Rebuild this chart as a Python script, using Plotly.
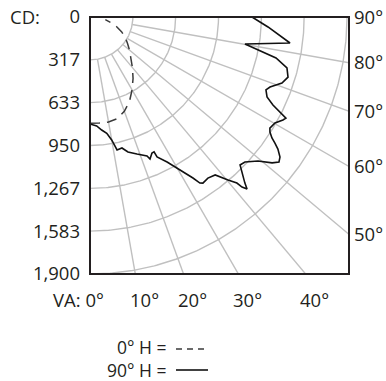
import numpy as np
import plotly.graph_objects as go

# ---- data (candela vs vertical angle) ----
cd_ticks = [0, 317, 633, 950, 1267, 1583, 1900]
cd_tick_text = ["0", "317", "633", "950", "1,267", "1,583", "1,900"]
va_ticks = [0, 10, 20, 30, 40]
side_ticks = [90, 80, 70, 60, 50]
grid_angles = [10, 20, 30, 40, 50, 60, 70, 80]

h0_angles = [0, 5, 10, 15, 20, 25, 30, 35, 40, 45, 50, 55, 60, 65, 70, 75, 80]
h0_cd = [785, 787, 788, 778, 742, 690, 622, 555, 488, 426, 381, 338, 300, 257, 210, 161, 115]

h90_angles = [0, 3.5, 5.9, 8.2, 10.0, 10.9, 11.5, 13.7, 15.7, 18.9, 22.3, 22.9, 24.5, 25.4,
              25.6, 28.0, 30.5, 32.6, 33.5, 34.2, 36.2, 38.4, 40.25, 41.5, 41.8, 42.4, 43.0,
              44.3, 45.4, 46.9, 49.4, 51.3, 52.5, 53.6, 54.9, 55.7, 56.4, 57.4, 58.3, 60.2,
              61.9, 62.7, 63.4, 64.3, 65.7, 67.5, 68.75, 71.0, 73.1, 75.5, 77.6, 78.7, 80.1,
              82.6, 84.3, 86.8, 90]
h90_cd = [791, 807, 840, 869, 923, 977, 1003, 997, 1037, 1071, 1111, 1140, 1105, 1104,
          1147, 1214, 1312, 1413, 1472, 1485, 1476, 1490, 1579, 1639, 1686, 1722, 1679,
          1610, 1558, 1569, 1636, 1725, 1761, 1745, 1698, 1655, 1615, 1579, 1563, 1576,
          1617, 1630, 1570, 1501, 1436, 1408, 1428, 1501, 1530, 1504, 1408, 1282, 1163,
          1491, 1419, 1318, 1198]

FONT = "Open Sans"
TXT = "#231f20"
GRID = "#c0c0c0"

W, H = 386, 381               # figure size (page body margin removed below)
PL, PT = 90, 17               # plot-area top-left in page pixels
PW, PH = 259, 257             # plot-area size
L, T = PL, PT
R = W - L - PW
B = H - T - PH
PB = PT + PH

ymax = cd_ticks[-1]
xmax = ymax * PW / PH


def polar_xy(ang, r):
    a = np.radians(np.asarray(ang, dtype=float))
    r = np.asarray(r, dtype=float)
    return r * np.sin(a), r * np.cos(a)


def px(xpage):
    return (xpage - PL) / PW


def py(ypage):
    return (PB - ypage) / PH


fig = go.Figure()

# polar grid: arcs
theta = np.linspace(0, 90, 181)
for rv in cd_ticks[1:]:
    x, y = polar_xy(theta, np.full_like(theta, rv))
    fig.add_trace(go.Scatter(x=x, y=y, mode="lines", line=dict(color=GRID, width=1.4),
                             hoverinfo="skip", showlegend=False))
# polar grid: radial lines
for a in grid_angles:
    x, y = polar_xy([a, a], [cd_ticks[1], 4000])
    fig.add_trace(go.Scatter(x=x, y=y, mode="lines", line=dict(color=GRID, width=1.4),
                             hoverinfo="skip", showlegend=False))

# curves
x, y = polar_xy(h0_angles, h0_cd)
fig.add_trace(go.Scatter(x=x, y=y, mode="lines", name="0° H",
                         line=dict(color="#3a3a3a", width=1.5, dash="10px,7px"),
                         showlegend=False))
x, y = polar_xy(h90_angles, h90_cd)
fig.add_trace(go.Scatter(x=x, y=y, mode="lines", name="90° H",
                         line=dict(color="#111111", width=1.6),
                         showlegend=False))

ann = []
ann.append(dict(text="CD:", xref="paper", yref="paper", x=px(8), y=1, xanchor="left",
                yanchor="middle", yshift=1, showarrow=False))
for a in side_ticks:
    yy = 0 if a == 90 else xmax / np.tan(np.radians(a))
    ann.append(dict(text=f"{a}°", xref="paper", yref="y", x=1, y=yy, xanchor="left",
                    yanchor="middle", xshift=3, yshift=1, showarrow=False))
for a in va_ticks:
    xx = ymax * np.tan(np.radians(a))
    if a == 0:
        ann.append(dict(text="VA: 0°", xref="x", yref="paper", x=xx, y=0, xanchor="right",
                        yanchor="middle", xshift=16, yshift=-25, showarrow=False))
    else:
        ann.append(dict(text=f"{a}°", xref="x", yref="paper", x=xx, y=0, xanchor="center",
                        yanchor="middle", xshift=9, yshift=-25, showarrow=False))
# legend text (two lines, one block)
ann.append(dict(text="0° H =<br>90° H =", xref="paper", yref="paper", x=px(169), y=py(358),
                xanchor="right", yanchor="middle", align="right", showarrow=False,
                font=dict(family=FONT, size=17.5, color=TXT)))

shapes = [
    dict(type="rect", xref="paper", yref="paper", x0=0, x1=1, y0=0, y1=1,
         line=dict(color=TXT, width=2), layer="above"),
    dict(type="line", xref="paper", yref="paper", x0=px(176), x1=px(208),
         y0=py(349), y1=py(349),
         line=dict(color="#3a3a3a", width=1.5, dash="6px,5px")),
    dict(type="line", xref="paper", yref="paper", x0=px(176), x1=px(208),
         y0=py(370), y1=py(370),
         line=dict(color="#111111", width=1.6)),
]

fig.update_layout(
    width=W, height=H, autosize=False,
    margin=dict(l=L, r=R, t=T, b=B, pad=0),
    paper_bgcolor="white", plot_bgcolor="white",
    font=dict(family=FONT, size=18.5, color=TXT),
    showlegend=False,
    hovermode=False,
    annotations=ann,
    shapes=shapes,
    xaxis=dict(range=[0, xmax], showgrid=False, zeroline=False, showticklabels=False,
               ticks="", showline=False, fixedrange=True, automargin=False),
    yaxis=dict(range=[ymax, 0], showgrid=False, zeroline=False, tickvals=cd_ticks,
               ticktext=cd_tick_text, ticks="", showline=False, ticklabelstandoff=9,
               ticklabeloverflow="allow",
               tickfont=dict(family=FONT, size=18.5, color=TXT), fixedrange=True,
               automargin=False),
)

fig.write_html("out.html",
               config={"displayModeBar": False, "staticPlot": True},
               post_script="document.body.style.margin='0px';"
                           "document.body.style.overflow='hidden';")
